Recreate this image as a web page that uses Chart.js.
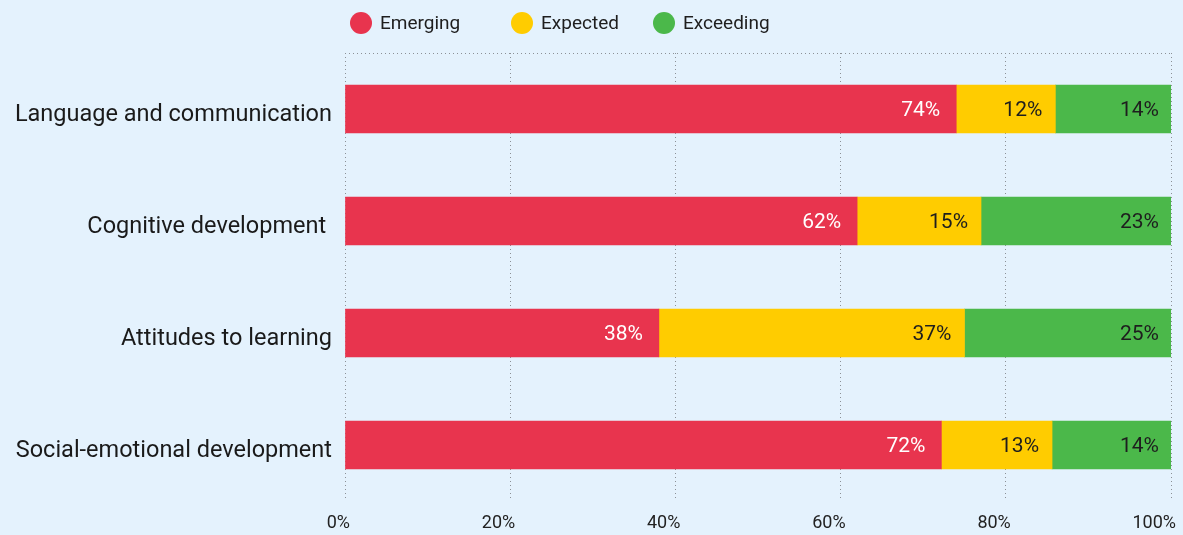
<!DOCTYPE html>
<html>
<head>
<meta charset="utf-8">
<script src="https://cdn.jsdelivr.net/npm/chart.js@4.4.1/dist/chart.umd.min.js"></script>
<style>
    html, body { margin: 0; padding: 0; background: #E4F2FD; }
    #wrap { position: relative; width: 1183px; height: 535px; }
    #legend { position: absolute; top: 0; left: 0; width: 100%; height: 45px; }
    .item { position: absolute; top: 11px; display: flex; align-items: center;
            font-family: Roboto, sans-serif; font-size: 19px; color: #1e1e1e; }
    .dot { width: 22px; height: 22px; border-radius: 50%; margin-right: 8px; }
</style>
</head>
<body>
<div id="wrap">
    <canvas id="chart" width="1183" height="535"></canvas>
    <div id="legend"></div>
</div>
<script>
document.addEventListener('DOMContentLoaded', function() {

    // --- Dữ liệu ---
    const categories = ['Language and communication', 'Cognitive development ', 'Attitudes to learning', 'Social-emotional development'];
    const seriesNames = ['Emerging', 'Expected', 'Exceeding'];
    const emerging = [74, 62, 38, 72.2];
    const expected = [12, 15, 37, 13.4];
    const exceeding = [14, 23, 25, 14.4];
    const xTicks = [0, 20, 40, 60, 80, 100];

    const colors = ['#E8344E', '#FFCC00', '#4BB84A']; // đỏ, vàng, xanh
    const labelColors = ['#FFFFFF', '#1E1E1E', '#1E1E1E'];
    const labelGap = [16, 13, 12]; // khoảng cách chữ tới cuối đoạn
    const legendLeft = [350, 511, 653];
    const gridColor = '#8C9196';

    // Legend HTML custom
    const legendEl = document.getElementById('legend');
    seriesNames.forEach(function(name, i) {
        const item = document.createElement('div');
        item.className = 'item';
        item.style.left = legendLeft[i] + 'px';
        item.innerHTML = '<span class="dot" style="background:' + colors[i] + '"></span>' + name;
        legendEl.appendChild(item);
    });

    // Plugin hiển thị % ở cuối mỗi đoạn
    const barLabels = {
        id: 'barLabels',
        afterDatasetsDraw: function(chart) {
            const ctx = chart.ctx;
            ctx.save();
            ctx.font = '21px Roboto';
            ctx.textAlign = 'right';
            ctx.textBaseline = 'middle';
            chart.data.datasets.forEach(function(ds, di) {
                chart.getDatasetMeta(di).data.forEach(function(bar, i) {
                    ctx.fillStyle = labelColors[di];
                    ctx.fillText(Math.round(ds.data[i]) + '%', bar.x - labelGap[di], bar.y + 1.5);
                });
            });
            ctx.restore();
        }
    };

    const ctx = document.getElementById('chart').getContext('2d');
    new Chart(ctx, {
        type: 'bar',
        data: {
            labels: categories,
            datasets: [emerging, expected, exceeding].map(function(values, i) {
                return {
                    label: seriesNames[i],
                    data: values,
                    backgroundColor: colors[i],
                    barThickness: 48,
                    borderWidth: 0
                };
            })
        },
        options: {
            indexAxis: 'y',
            responsive: false,
            animation: false,
            layout: {
                padding: { top: 53, right: 10, left: 0, bottom: 0 }
            },
            plugins: {
                legend: { display: false },
                tooltip: { enabled: false }
            },
            scales: {
                x: {
                    stacked: true,
                    min: 0,
                    max: 100,
                    afterBuildTicks: function(scale) {
                        scale.ticks = xTicks.map(function(v) { return { value: v }; });
                    },
                    afterFit: function(scale) { scale.height = 34; },
                    grid: {
                        color: gridColor,
                        lineWidth: 1,
                        drawTicks: false
                    },
                    border: { display: false, dash: [1, 3] },
                    ticks: {
                        align: 'end',
                        labelOffset: 5,
                        padding: 12,
                        color: '#222',
                        font: { family: 'Roboto', size: 18 },
                        callback: function(value) { return value + '%'; }
                    }
                },
                y: {
                    stacked: true,
                    afterFit: function(scale) { scale.width = 345; },
                    grid: {
                        drawTicks: false,
                        color: function(c) {
                            return (c.index === 0 || c.index === categories.length) ? gridColor : 'transparent';
                        }
                    },
                    border: { display: false, dash: [1, 3] },
                    ticks: {
                        padding: 13,
                        labelOffset: 6,
                        color: '#1A1A1A',
                        font: { family: 'Roboto', size: 23.5 }
                    }
                }
            }
        },
        plugins: [barLabels]
    });
});
</script>
</body>
</html>
